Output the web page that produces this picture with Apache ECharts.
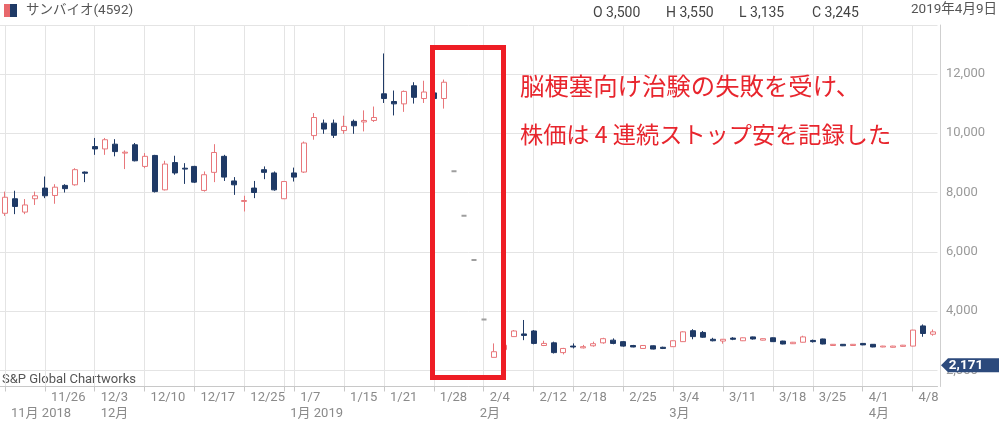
<!DOCTYPE html>
<html><head><meta charset="utf-8">
<script src="https://cdn.jsdelivr.net/npm/echarts@6/dist/echarts.min.js"></script>
<style>html,body{margin:0;padding:0;background:#fff}#c{width:999px;height:427px}</style>
</head><body><div id="c"></div>
<script>
const categories = ['11/19','11/20','11/21','11/22','11/26','11/27','11/28','11/29','11/30',
'12/3','12/4','12/5','12/6','12/7','12/10','12/11','12/12','12/13','12/14','12/17','12/18','12/19','12/20','12/21','12/25','12/26','12/27','12/28',
'1/4','1/7','1/8','1/9','1/10','1/11','1/15','1/16','1/17','1/18','1/21','1/22','1/23','1/24','1/25','1/28','1/29','1/30','1/31',
'2/1','2/4','2/5','2/6','2/7','2/8','2/12','2/13','2/14','2/15','2/18','2/19','2/20','2/21','2/22','2/25','2/26','2/27','2/28',
'3/1','3/4','3/5','3/6','3/7','3/8','3/11','3/12','3/13','3/14','3/15','3/18','3/19','3/20','3/22','3/25','3/26','3/27','3/28','3/29',
'4/1','4/2','4/3','4/4','4/5','4/8','4/9','4/10'];

const opens = [7300,7790,7340,7790,8150,7900,8240,8260,8690,
9550,9470,9630,9330,9610,8880,9250,8090,9010,8820,8880,8070,8680,9220,8390,7700,8150,8770,8660,
7790,8660,8690,9920,10340,10340,10090,10400,10380,10430,11330,11070,10990,11600,11170,11360,11170,8720,7220,
5720,3720,2440,2700,3140,3230,3330,2840,2930,2600,2820,2760,2830,2930,3020,2970,2840,2740,2830,
2780,2800,2970,3340,3280,3050,2990,3090,3000,3130,3020,3100,2990,2900,2950,3010,3060,2840,2880,2840,
2910,2880,2790,2780,2810,2820,3500,3220];

const closes = [7840,7530,7580,7890,7890,8180,8130,8770,8650,
9470,9780,9380,9360,9070,9220,8030,8960,8660,8790,8350,8600,9350,8520,8260,7730,8000,8680,8090,
8370,8520,9670,10530,10140,9930,10230,10250,10430,10530,11170,10990,11410,11210,11390,11170,11720,8720,7220,
5720,3720,2630,2850,3330,3180,2910,2910,2600,2740,2790,2800,2900,3070,2910,2820,2790,2840,2720,
2740,3000,3300,3140,3120,3000,3050,3050,3100,3060,3070,2970,2890,2950,3130,2970,2890,2880,2830,2880,
2860,2790,2820,2820,2850,3360,3245,3300];

const lows = [7210,7270,7270,7580,7810,7620,8000,8230,8350,
9270,9270,9220,8790,9050,8820,8000,8070,8600,8290,8320,8030,8350,8390,7920,7360,7810,8450,8060,
7780,8370,8660,9780,9980,9840,9980,9980,10060,10380,11020,10600,10720,11000,11020,11100,10830,8720,7220,
5720,3720,2440,2660,3140,3020,2880,2820,2570,2540,2740,2740,2800,2900,2880,2800,2780,2730,2710,
2720,2790,2960,3050,3100,2980,2900,3020,2990,3040,3010,2960,2880,2890,2940,2940,2880,2830,2820,2830,
2850,2780,2780,2770,2800,2810,3135,3170];

const highs = [8030,8060,7780,8030,8540,8280,8280,8820,8710,
9840,9840,9800,9420,9670,9330,9270,9070,9240,8990,8900,8710,9630,9270,8520,7890,8390,8880,8710,
8390,8840,9720,10680,10460,10460,10590,10460,10770,10900,12690,11440,11440,11720,11770,11420,11810,8720,7220,
5720,3720,2910,2900,3360,3700,3360,3000,2970,2760,2910,2860,2970,3100,3080,2990,2860,2850,2840,
2800,3010,3320,3390,3330,3100,3060,3120,3110,3140,3080,3110,3000,2960,3170,3040,3070,2890,2890,2890,
2920,2890,2830,2830,2860,3370,3550,3380];

const weekLabels = ['11/26','12/3','12/10','12/17','12/25','1/7','1/15','1/21','1/28','2/4','2/12','2/18','2/25','3/4','3/11','3/18','3/25','4/1','4/8'];
const weekTicks = ['11/19','1/4'].concat(weekLabels);
const monthStarts = ['11/19','12/3','1/4','2/1','3/1','4/1'];
const monthLabels = ['11月 2018','12月','1月 2019','2月','3月','4月'];
const lastPrice = 2171;
const quoteLabels = ['O 3,500','H 3,550','L 3,135','C 3,245'];
const titleText = 'サンバイオ(4592)';
const dateText = '2019年4月9日';
const noteLines = ['脳梗塞向け治験の失敗を受け、','株価は 4 連続ストップ安を記録した'];

const labelSet = new Set(weekLabels.map(d => categories.indexOf(d)));
const tickSet = new Set(weekTicks.map(d => categories.indexOf(d)));
const monthMap = new Map(monthStarts.map((d, k) => [categories.indexOf(d), monthLabels[k]]));

const GRAY = '#9e9e9e';
const candleData = categories.map((d, i) => {
  const v = [opens[i], closes[i], lows[i], highs[i]];
  if (opens[i] === closes[i] && lows[i] === highs[i]) {
    return {value: v, itemStyle: {color: GRAY, color0: GRAY, borderColor: GRAY, borderColor0: GRAY, borderWidth: 2}};
  }
  return v;
});

const FONT = 'Roboto, "Noto Sans CJK JP", sans-serif';
const quoteX = [593, 666, 739, 812];

const graphics = [
  {type: 'rect', shape: {x: 4, y: 4, width: 6, height: 13}, style: {fill: '#e8686c'}},
  {type: 'rect', shape: {x: 10, y: 4, width: 7, height: 13}, style: {fill: '#1f3a66'}},
  {type: 'text', x: 26, y: 11, style: {text: titleText, fill: '#555', font: '13.5px ' + FONT, verticalAlign: 'middle'}},
  {type: 'text', x: 997, y: 10, style: {text: dateText, fill: '#555', font: '13.5px ' + FONT, align: 'right', verticalAlign: 'middle'}},
  {type: 'text', x: 2, y: 380, style: {text: 'S&P Global Chartworks', fill: '#555', font: '13px ' + FONT, verticalAlign: 'middle'}},
  {type: 'rect', z: 100, shape: {x: 432.5, y: 47.5, width: 71, height: 330}, style: {fill: 'none', stroke: '#ee1d24', lineWidth: 5}},
  {type: 'text', z: 100, x: 520, y: 86, style: {text: noteLines[0], fill: '#e8252d', font: '24.4px "Noto Sans CJK JP"', verticalAlign: 'middle'}},
  {type: 'text', z: 100, x: 520, y: 134, style: {text: noteLines[1], fill: '#e8252d', font: '23.2px "Noto Sans CJK JP"', verticalAlign: 'middle'}}
].concat(quoteLabels.map((t, k) => ({type: 'text', x: quoteX[k], y: 13, style: {text: t, fill: '#444', font: '14px ' + FONT, verticalAlign: 'middle'}})));

const chart = echarts.init(document.getElementById('c'));
chart.setOption({
  animation: false,
  textStyle: {fontFamily: FONT},
  grid: {left: -3.3, right: 61.5, top: 25, bottom: 40.5, show: false},
  xAxis: [{
    type: 'category', data: categories, boundaryGap: true,
    axisLine: {lineStyle: {color: '#c8c8c8'}},
    axisTick: {show: true, alignWithLabel: true, interval: (i) => tickSet.has(i), length: 5, lineStyle: {color: '#c8c8c8'}},
    axisLabel: {interval: (i) => labelSet.has(i), align: 'left', padding: [0, 0, 0, 6], margin: 5, color: '#8a8a8a', fontSize: 13, fontFamily: FONT},
    splitLine: {show: true, alignWithLabel: true, interval: (i) => tickSet.has(i), lineStyle: {color: '#e4e4e4'}}
  }, {
    type: 'category', data: categories, boundaryGap: true, position: 'bottom', offset: 16,
    axisLine: {show: false}, axisTick: {show: false}, splitLine: {show: false},
    axisLabel: {interval: (i) => monthMap.has(i), formatter: (v, i) => monthMap.get(i) || '', align: 'left', padding: [0, 0, 0, 6], margin: 5, color: '#8a8a8a', fontSize: 13, fontFamily: FONT}
  }],
  yAxis: {
    type: 'value', position: 'right', min: 1457, max: 13650, offset: 2.5, scale: true,
    axisLine: {show: true, lineStyle: {color: '#cfcfcf'}},
    axisTick: {show: false},
    axisLabel: {showMinLabel: false, showMaxLabel: false, margin: 6, color: '#9a9a9a', fontSize: 13, fontFamily: FONT,
      formatter: (v) => v.toLocaleString('en-US')},
    splitLine: {show: true, lineStyle: {color: '#e4e4e4'}}
  },
  series: [{
    type: 'candlestick', xAxisIndex: 0, data: candleData, barWidth: 5.5,
    itemStyle: {color: '#ffffff', color0: '#1f3a66', borderColor: '#e8777b', borderColor0: '#1f3a66', borderWidth: 1},
    markPoint: {
      symbol: 'path://M0,7L7,0L60,0L60,14L7,14Z', symbolSize: [60, 14], symbolOffset: [38.5, 0],
      itemStyle: {color: '#2c4a7c'},
      label: {show: true, position: 'inside', formatter: () => lastPrice.toLocaleString('en-US'), color: '#fff', fontSize: 13.5, fontWeight: 'bold', fontFamily: FONT, offset: [-5, 0]},
      data: [{coord: [categories[categories.length - 1], lastPrice], value: lastPrice}]
    }
  }],
  graphic: graphics
});
</script></body></html>
